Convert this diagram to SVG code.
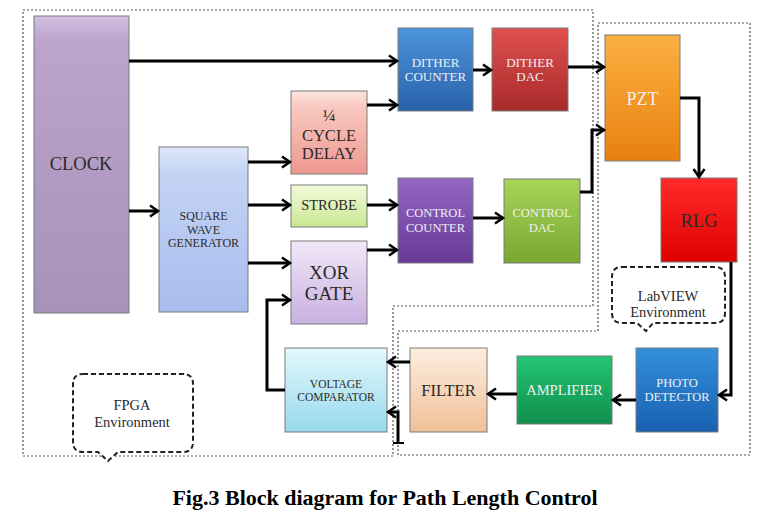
<svg xmlns="http://www.w3.org/2000/svg" width="763" height="513" viewBox="0 0 763 513">
<style>
.box{stroke:#7a7a7a;stroke-width:1}
.t{font-family:"Liberation Serif","Times New Roman",serif;text-anchor:middle}
.dk{fill:#2a2a2a}
.lt{fill:#eef0f4}
.env{fill:none;stroke:#555;stroke-width:1.2;stroke-dasharray:2 2}
.call{fill:#fff;stroke:#222;stroke-width:2;stroke-dasharray:5 3}
.c{fill:none;stroke:#000;stroke-width:3;marker-end:url(#ah)}
.cap{font-family:"Liberation Serif","Times New Roman",serif;font-weight:bold;font-size:22px;text-anchor:middle;fill:#000}
</style>
<defs>
<marker id="ah" markerUnits="userSpaceOnUse" markerWidth="14" markerHeight="14" refX="10" refY="7" orient="auto" viewBox="0 0 14 14">
<path d="M2,1.5 L10,7 L2,12.5" fill="none" stroke="#000" stroke-width="2.5"/>
</marker>
<linearGradient id="gClock" x1="0" y1="0" x2="0" y2="1"><stop offset="0" stop-color="#d4c0e2"/><stop offset="0.08" stop-color="#bca4cc"/><stop offset="1" stop-color="#a892b8"/></linearGradient>
<linearGradient id="gSqw" x1="0" y1="0" x2="0" y2="1"><stop offset="0" stop-color="#dfe8fb"/><stop offset="0.15" stop-color="#c4d4f4"/><stop offset="1" stop-color="#a8bcee"/></linearGradient>
<linearGradient id="gCyc" x1="0" y1="0" x2="0" y2="1"><stop offset="0" stop-color="#fde4de"/><stop offset="0.2" stop-color="#f8c8c0"/><stop offset="1" stop-color="#ee9890"/></linearGradient>
<linearGradient id="gStr" x1="0" y1="0" x2="0" y2="1"><stop offset="0" stop-color="#f2fadc"/><stop offset="1" stop-color="#c8e890"/></linearGradient>
<linearGradient id="gXor" x1="0" y1="0" x2="0" y2="1"><stop offset="0" stop-color="#f2e8f8"/><stop offset="1" stop-color="#c8b0e0"/></linearGradient>
<linearGradient id="gDc" x1="0" y1="0" x2="0" y2="1"><stop offset="0" stop-color="#4c94dc"/><stop offset="1" stop-color="#2a62aa"/></linearGradient>
<linearGradient id="gDd" x1="0" y1="0" x2="0" y2="1"><stop offset="0" stop-color="#e05050"/><stop offset="1" stop-color="#a82a2a"/></linearGradient>
<linearGradient id="gPzt" x1="0" y1="0" x2="0" y2="1"><stop offset="0" stop-color="#fbb040"/><stop offset="1" stop-color="#e88010"/></linearGradient>
<linearGradient id="gRlg" x1="0" y1="0" x2="0" y2="1"><stop offset="0" stop-color="#ff2a2a"/><stop offset="1" stop-color="#e00000"/></linearGradient>
<linearGradient id="gCc" x1="0" y1="0" x2="0" y2="1"><stop offset="0" stop-color="#9466c4"/><stop offset="1" stop-color="#683a98"/></linearGradient>
<linearGradient id="gCd" x1="0" y1="0" x2="0" y2="1"><stop offset="0" stop-color="#a8d458"/><stop offset="1" stop-color="#78a830"/></linearGradient>
<linearGradient id="gVc" x1="0" y1="0" x2="0" y2="1"><stop offset="0" stop-color="#e2f8fc"/><stop offset="1" stop-color="#98d8ec"/></linearGradient>
<linearGradient id="gFil" x1="0" y1="0" x2="0" y2="1"><stop offset="0" stop-color="#fdeee0"/><stop offset="1" stop-color="#f0c098"/></linearGradient>
<linearGradient id="gAmp" x1="0" y1="0" x2="0" y2="1"><stop offset="0" stop-color="#24c472"/><stop offset="1" stop-color="#10904e"/></linearGradient>
<linearGradient id="gPd" x1="0" y1="0" x2="0" y2="1"><stop offset="0" stop-color="#3490dc"/><stop offset="1" stop-color="#1860b0"/></linearGradient>
</defs>
<rect width="763" height="513" fill="#fff"/>

<!-- environment boundaries -->
<path class="env" d="M23,10 H593 V306 H393 V456 H23 Z"/>
<path class="env" d="M598,23 H750 V455 H398 V331 H598 Z"/>

<!-- nodes -->
<g id="clock"><rect class="box" x="34" y="16" width="95" height="297" fill="url(#gClock)"/><text class="t dk" x="81" y="170" font-size="18.5">CLOCK</text></g>
<g id="sqw"><rect class="box" x="159" y="147" width="89" height="165" fill="url(#gSqw)"/><text class="t dk" font-size="12"><tspan x="203.5" y="220">SQUARE</tspan><tspan x="203.5" y="234">WAVE</tspan><tspan x="203.5" y="247">GENERATOR</tspan></text></g>
<g id="cycle"><rect class="box" x="291" y="91" width="76" height="83" fill="url(#gCyc)"/><text class="t dk" font-size="16.5"><tspan x="329" y="121" font-size="17">¼</tspan><tspan x="329" y="141">CYCLE</tspan><tspan x="329" y="159">DELAY</tspan></text></g>
<g id="strobe"><rect class="box" x="291" y="185" width="76" height="42" fill="url(#gStr)"/><text class="t dk" x="329" y="210" font-size="14.5">STROBE</text></g>
<g id="xor"><rect class="box" x="291" y="241" width="76" height="83" fill="url(#gXor)"/><text class="t dk" font-size="19"><tspan x="329" y="279">XOR</tspan><tspan x="329" y="300">GATE</tspan></text></g>
<g id="dcounter"><rect class="box" x="398" y="28" width="75" height="83" fill="url(#gDc)"/><text class="t lt" font-size="13"><tspan x="435.5" y="67">DITHER</tspan><tspan x="435.5" y="81">COUNTER</tspan></text></g>
<g id="ddac"><rect class="box" x="492" y="28" width="76" height="83" fill="url(#gDd)"/><text class="t lt" font-size="13"><tspan x="530" y="67">DITHER</tspan><tspan x="530" y="81">DAC</tspan></text></g>
<g id="pzt"><rect class="box" x="605" y="35" width="75" height="126" fill="url(#gPzt)"/><text class="t lt" x="642.5" y="105" font-size="18">PZT</text></g>
<g id="rlg"><rect class="box" x="661" y="178" width="76" height="84" fill="url(#gRlg)"/><text class="t dk" x="699" y="227" font-size="18.5">RLG</text></g>
<g id="ccounter"><rect class="box" x="398" y="178" width="75" height="85" fill="url(#gCc)"/><text class="t lt" font-size="12.5"><tspan x="435.5" y="217">CONTROL</tspan><tspan x="435.5" y="232">COUNTER</tspan></text></g>
<g id="cdac"><rect class="box" x="504" y="179" width="76" height="84" fill="url(#gCd)"/><text class="t lt" font-size="12.5"><tspan x="542" y="217">CONTROL</tspan><tspan x="542" y="232">DAC</tspan></text></g>
<g id="vcomp"><rect class="box" x="285" y="348" width="102" height="84" fill="url(#gVc)"/><text class="t dk" font-size="11.5"><tspan x="336" y="388">VOLTAGE</tspan><tspan x="336" y="401">COMPARATOR</tspan></text></g>
<g id="filter"><rect class="box" x="410" y="348" width="77" height="84" fill="url(#gFil)"/><text class="t dk" x="448.5" y="396" font-size="16.5">FILTER</text></g>
<g id="amp"><rect class="box" x="517" y="356" width="95" height="68" fill="url(#gAmp)"/><text class="t lt" x="564.5" y="395" font-size="14.5">AMPLIFIER</text></g>
<g id="pd"><rect class="box" x="636" y="348" width="82" height="84" fill="url(#gPd)"/><text class="t lt" font-size="12.5"><tspan x="677" y="387">PHOTO</tspan><tspan x="677" y="401">DETECTOR</tspan></text></g>

<!-- callouts -->
<g id="fpga-env"><path class="call" d="M83,374 H183 Q193,374 193,384 V442 Q193,452 183,452 H118 L108,461 L98,452 H83 Q73,452 73,442 V384 Q73,374 83,374 Z"/><text class="t dk" font-size="14.5"><tspan x="132" y="410">FPGA</tspan><tspan x="132" y="427">Environment</tspan></text></g>
<g id="labview-env"><path class="call" d="M622,267 H715 Q725,267 725,277 V313 Q725,323 715,323 H653 L646,331 L637,323 H622 Q612,323 612,313 V277 Q612,267 622,267 Z"/><text class="t dk" font-size="14.5"><tspan x="668" y="301">LabVIEW</tspan><tspan x="668" y="317">Environment</tspan></text></g>

<!-- connectors -->
<g id="connectors">
<path class="c" d="M129,61 H397"/>
<path class="c" d="M129,211 H158"/>
<path class="c" d="M248,162 H290"/>
<path class="c" d="M248,205 H290"/>
<path class="c" d="M248,263 H290"/>
<path class="c" d="M367,105 H397"/>
<path class="c" d="M367,205 H397"/>
<path class="c" d="M367,250 H397"/>
<path class="c" d="M473,70 H491"/>
<path class="c" d="M568,67 H604"/>
<path class="c" d="M473,218 H503"/>
<path class="c" d="M580,192 H592 V130 H604"/>
<path class="c" d="M680,98 H699 V177"/>
<path class="c" d="M731,262 V395 H719"/>
<path class="c" d="M636,400 H613"/>
<path class="c" d="M517,394 H488"/>
<path class="c" d="M410,362 H388"/>
<path class="c" d="M398,443 V412 H388"/>
<path d="M393,443 H404" fill="none" stroke="#000" stroke-width="2"/>
<path class="c" d="M285,390 H267 V300 H290"/>
</g>

<text class="cap" x="385" y="505">Fig.3 Block diagram for Path Length Control</text>
</svg>
